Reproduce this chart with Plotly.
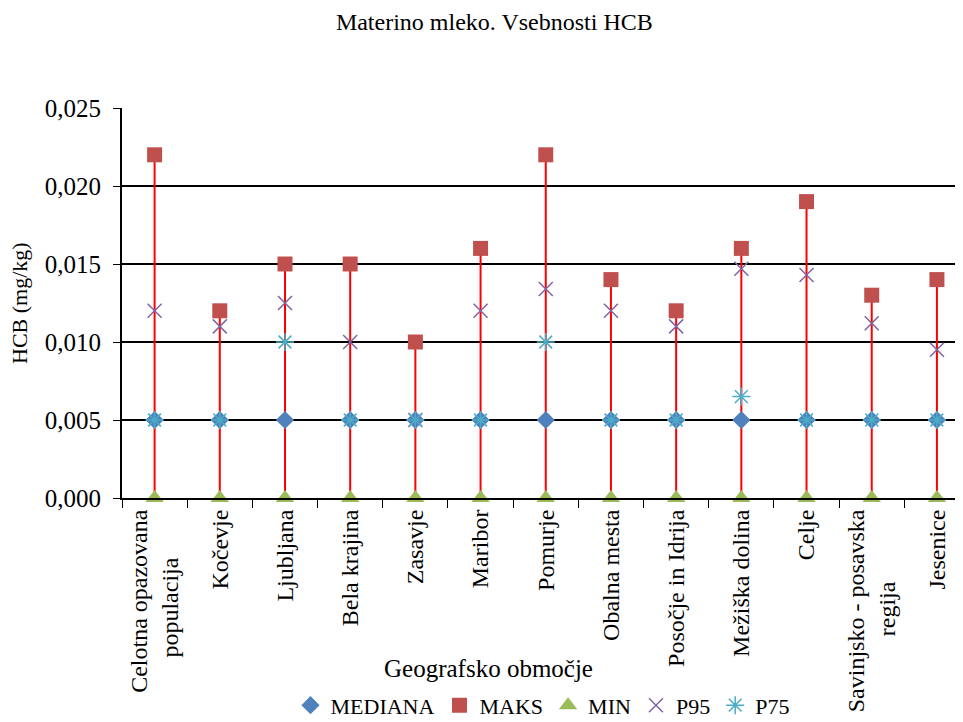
import plotly.graph_objects as go

NB = "\u00a0"
categories = ["Celotna opazovana<br>populacija" + NB * 8, "Kočevje", "Ljubljana", "Bela krajina", "Zasavje",
              "Maribor", "Pomurje", "Obalna mesta", "Posočje in Idrija", "Mežiška dolina",
              "Celje", "Savinjsko - posavska<br>regija" + NB * 12, "Jesenice"]
mediana = [0.005] * 13
maks = [0.022, 0.012, 0.015, 0.015, 0.010, 0.016, 0.022, 0.014, 0.012, 0.016, 0.019, 0.013, 0.014]
minv = [0.0] * 13
p95 = [0.012, 0.011, 0.0125, 0.010, 0.005, 0.012, 0.0134, 0.012, 0.011, 0.0147, 0.0143, 0.0112, 0.0095]
p75 = [0.005, 0.005, 0.010, 0.005, 0.005, 0.005, 0.010, 0.005, 0.005, 0.0065, 0.005, 0.005, 0.005]

font = "Liberation Serif, Times New Roman, serif"

lx, ly = [], []
for c, lo, hi in zip(categories, minv, maks):
    lx += [c, c, None]
    ly += [lo, hi, None]

fig = go.Figure()
fig.add_trace(go.Scatter(x=lx, y=ly, mode="lines", line=dict(color="#FF0000", width=2),
                         showlegend=False, hoverinfo="skip", cliponaxis=False))
fig.add_trace(go.Scatter(x=categories, y=mediana, mode="markers", name="MEDIANA",
                         marker=dict(symbol="diamond", size=14, color="#4F81BD"), cliponaxis=False))
fig.add_trace(go.Scatter(x=categories, y=maks, mode="markers", name="MAKS",
                         marker=dict(symbol="square", size=15, color="#C0504D"), cliponaxis=False))
fig.add_trace(go.Scatter(x=categories, y=minv, mode="markers", name="MIN",
                         marker=dict(symbol="triangle-up", size=16, color="#9BBB59"), cliponaxis=False))
fig.add_trace(go.Scatter(x=categories, y=p95, mode="markers", name="P95",
                         marker=dict(symbol="x-thin-open", size=14, color="#8064A2",
                                     line=dict(width=1.5, color="#8064A2")), cliponaxis=False))
fig.add_trace(go.Scatter(x=categories, y=p75, mode="markers", name="P75",
                         marker=dict(symbol="asterisk-open", size=15, color="#4BACC6",
                                     line=dict(width=1.5, color="#4BACC6")), cliponaxis=False))

fig.update_layout(
    width=963, height=722,
    margin=dict(l=114, r=8, t=100, b=232),
    paper_bgcolor="white", plot_bgcolor="white",
    separators=", ",
    font=dict(family=font, size=22, color="black"),
    title=dict(text="Materino mleko. Vsebnosti HCB", x=0.505, xanchor="center",
               y=1 - 14 / 722, yanchor="middle", font=dict(family=font, size=24)),
    showlegend=True,
    legend=dict(orientation="h", x=0.5, xanchor="center", yref="container", y=0.005, yanchor="bottom",
                font=dict(family=font, size=22), itemwidth=30, tracegroupgap=0,
                bgcolor="rgba(0,0,0,0)"),
    xaxis=dict(
        type="category", range=[-0.5, 12.4], tickangle=-90, showgrid=False, automargin=False,
        showline=True, linecolor="black", linewidth=2,
        ticks="outside", ticklen=8, tickcolor="black", tickwidth=1, tickson="boundaries",
        tickfont=dict(family=font, size=24),
    ),
    yaxis=dict(
        range=[0, 0.025], dtick=0.005, tickformat=".3f", automargin=False,
        showgrid=True, gridcolor="black", gridwidth=1.5,
        showline=True, linecolor="black", linewidth=2,
        ticks="outside", ticklen=7, tickcolor="black", ticklabelstandoff=7,
        tickfont=dict(family=font, size=25), zeroline=False,
    ),
    annotations=[
        dict(text="Geografsko območje", xref="paper", yref="paper", x=(488 - 122) / 841,
             y=(498 - 668) / 390, xanchor="center", yanchor="middle", showarrow=False,
             font=dict(family=font, size=25)),
        dict(text="HCB (mg/kg)", xref="paper", yref="paper", x=(19 - 122) / 841,
             y=(498 - 303) / 390, xanchor="center", yanchor="middle", showarrow=False,
             textangle=-90, font=dict(family=font, size=22)),
    ],
)
fig.write_html("out.html")
